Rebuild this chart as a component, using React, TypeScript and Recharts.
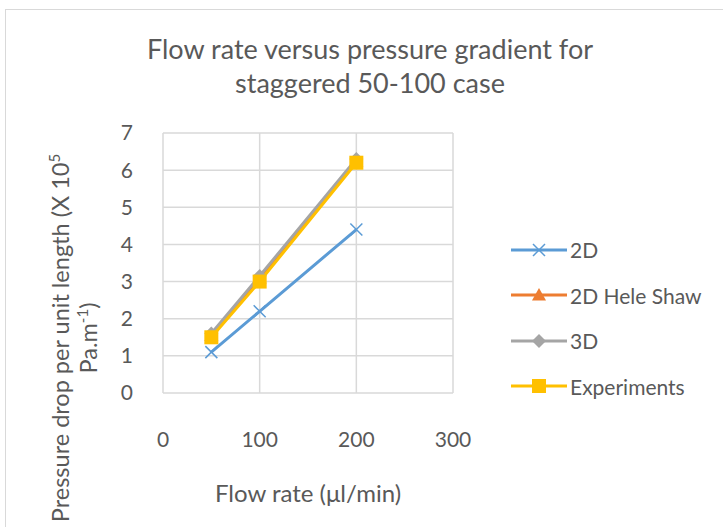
import React from "react";
import { LineChart, Line, XAxis, YAxis, CartesianGrid } from "recharts";

const flowRates = [50, 100, 200];
const series2D = [1.1, 2.2, 4.4];
const seriesHeleShaw = [1.55, 3.1, 6.25];
const series3D = [1.6, 3.15, 6.3];
const seriesExperiments = [1.5, 3.0, 6.2];
const xTicks = [0, 100, 200, 300];
const yTicks = [0, 1, 2, 3, 4, 5, 6, 7];

const data = flowRates.map((q, i) => ({
  q,
  d2: series2D[i],
  hs: seriesHeleShaw[i],
  d3: series3D[i],
  exp: seriesExperiments[i],
}));

const FONT = "Lato, 'Open Sans', sans-serif";
const TEXT = "#595959";

const XDot = (p: any) => {
  const { cx, cy, stroke } = p;
  if (cx == null || cy == null) return null;
  const s = 6;
  return (
    <g key={`x-${cx}`}>
      <line x1={cx - s} y1={cy - s} x2={cx + s} y2={cy + s} stroke={stroke} strokeWidth={1.5} />
      <line x1={cx - s} y1={cy + s} x2={cx + s} y2={cy - s} stroke={stroke} strokeWidth={1.5} />
    </g>
  );
};
const TriDot = (p: any) => {
  const { cx, cy, fill } = p;
  if (cx == null || cy == null) return null;
  const s = 7;
  return <polygon key={`t-${cx}`} points={`${cx},${cy - s} ${cx + s},${cy + s * 0.8} ${cx - s},${cy + s * 0.8}`} fill={fill} />;
};
const DiaDot = (p: any) => {
  const { cx, cy, fill } = p;
  if (cx == null || cy == null) return null;
  const s = 7;
  return <polygon key={`d-${cx}`} points={`${cx},${cy - s} ${cx + s},${cy} ${cx},${cy + s} ${cx - s},${cy}`} fill={fill} />;
};
const SqDot = (p: any) => {
  const { cx, cy, fill } = p;
  if (cx == null || cy == null) return null;
  const s = 7;
  return <rect key={`s-${cx}`} x={cx - s} y={cy - s} width={2 * s} height={2 * s} fill={fill} />;
};

const legendItems = [
  { name: "2D", color: "#5B9BD5", marker: "x" },
  { name: "2D Hele Shaw", color: "#ED7D31", marker: "tri" },
  { name: "3D", color: "#A5A5A5", marker: "dia" },
  { name: "Experiments", color: "#FFC000", marker: "sq" },
];

function LegendMarker({ marker, color }: { marker: string; color: string }) {
  const cx = 28, cy = 10;
  return (
    <svg width={56} height={20} style={{ display: "block" }}>
      <line x1={0} y1={cy} x2={56} y2={cy} stroke={color} strokeWidth={3} strokeLinecap="round" />
      {marker === "x" && <XDot cx={cx} cy={cy} stroke={color} />}
      {marker === "tri" && <TriDot cx={cx} cy={cy} fill={color} />}
      {marker === "dia" && <DiaDot cx={cx} cy={cy} fill={color} />}
      {marker === "sq" && <SqDot cx={cx} cy={cy} fill={color} />}
    </svg>
  );
}

export default function App() {
  return (
    <div style={{ position: "fixed", left: 0, top: 0, width: 723, height: 527, overflow: "hidden", background: "#fff", fontFamily: FONT }}>
      <div style={{ position: "absolute", left: 5, top: 9, width: 800, height: 600, border: "1px solid #d9d9d9" }} />
      <div style={{ position: "absolute", left: 0, width: 740, top: 32, textAlign: "center", fontSize: 27, lineHeight: "34px", color: TEXT }}>
        Flow rate versus pressure gradient for
        <br />
        staggered 50-100 case
      </div>
      <div style={{ position: "absolute", left: 0, top: 0 }}>
        <LineChart width={723} height={527} data={data} margin={{ top: 133, right: 270, bottom: 74, left: 123 }}>
          <CartesianGrid stroke="#d9d9d9" strokeWidth={1.5} horizontalValues={yTicks} verticalValues={xTicks} />
          <XAxis
            dataKey="q"
            type="number"
            domain={[0, 300]}
            ticks={xTicks}
            axisLine={false}
            tickLine={false}
            tickMargin={33}
            height={60}
            tick={{ fill: TEXT, fontSize: 21, fontFamily: FONT }}
          />
          <YAxis
            type="number"
            domain={[0, 7]}
            ticks={yTicks}
            axisLine={false}
            tickLine={false}
            tickMargin={24}
            width={40}
            tick={{ fill: TEXT, fontSize: 21, fontFamily: FONT }}
          />
          <Line dataKey="d2" stroke="#5B9BD5" strokeWidth={3} isAnimationActive={false} dot={<XDot />} />
          <Line dataKey="hs" stroke="#ED7D31" fill="#ED7D31" strokeWidth={3} isAnimationActive={false} dot={<TriDot />} />
          <Line dataKey="d3" stroke="#A5A5A5" fill="#A5A5A5" strokeWidth={3} isAnimationActive={false} dot={<DiaDot />} />
          <Line dataKey="exp" stroke="#FFC000" fill="#FFC000" strokeWidth={3} isAnimationActive={false} dot={<SqDot />} />
        </LineChart>
      </div>
      <div style={{ position: "absolute", left: 0, top: 476, width: 616, textAlign: "center", fontSize: 24, lineHeight: "34px", color: TEXT }}>
        Flow rate (μl/min)
      </div>
      <div
        style={{
          position: "absolute",
          left: 80 - 250,
          top: 338 - 34,
          width: 500,
          height: 68,
          transform: "rotate(-90deg)",
          textAlign: "center",
          fontSize: 23.5,
          lineHeight: "28px",
          color: TEXT,
          whiteSpace: "nowrap",
        }}
      >
        Pressure drop per unit length (X 10<sup style={{ fontSize: 15, lineHeight: 0 }}>5</sup>
        <br />
        Pa.m<sup style={{ fontSize: 15, lineHeight: 0 }}>-1</sup>)
      </div>
      <div style={{ position: "absolute", left: 511, top: 227 }}>
        {legendItems.map((it) => (
          <div key={it.name} style={{ display: "flex", alignItems: "center", height: 45.5 }}>
            <LegendMarker marker={it.marker} color={it.color} />
            <span style={{ marginLeft: 3, fontSize: 21, color: TEXT }}>{it.name}</span>
          </div>
        ))}
      </div>
    </div>
  );
}
